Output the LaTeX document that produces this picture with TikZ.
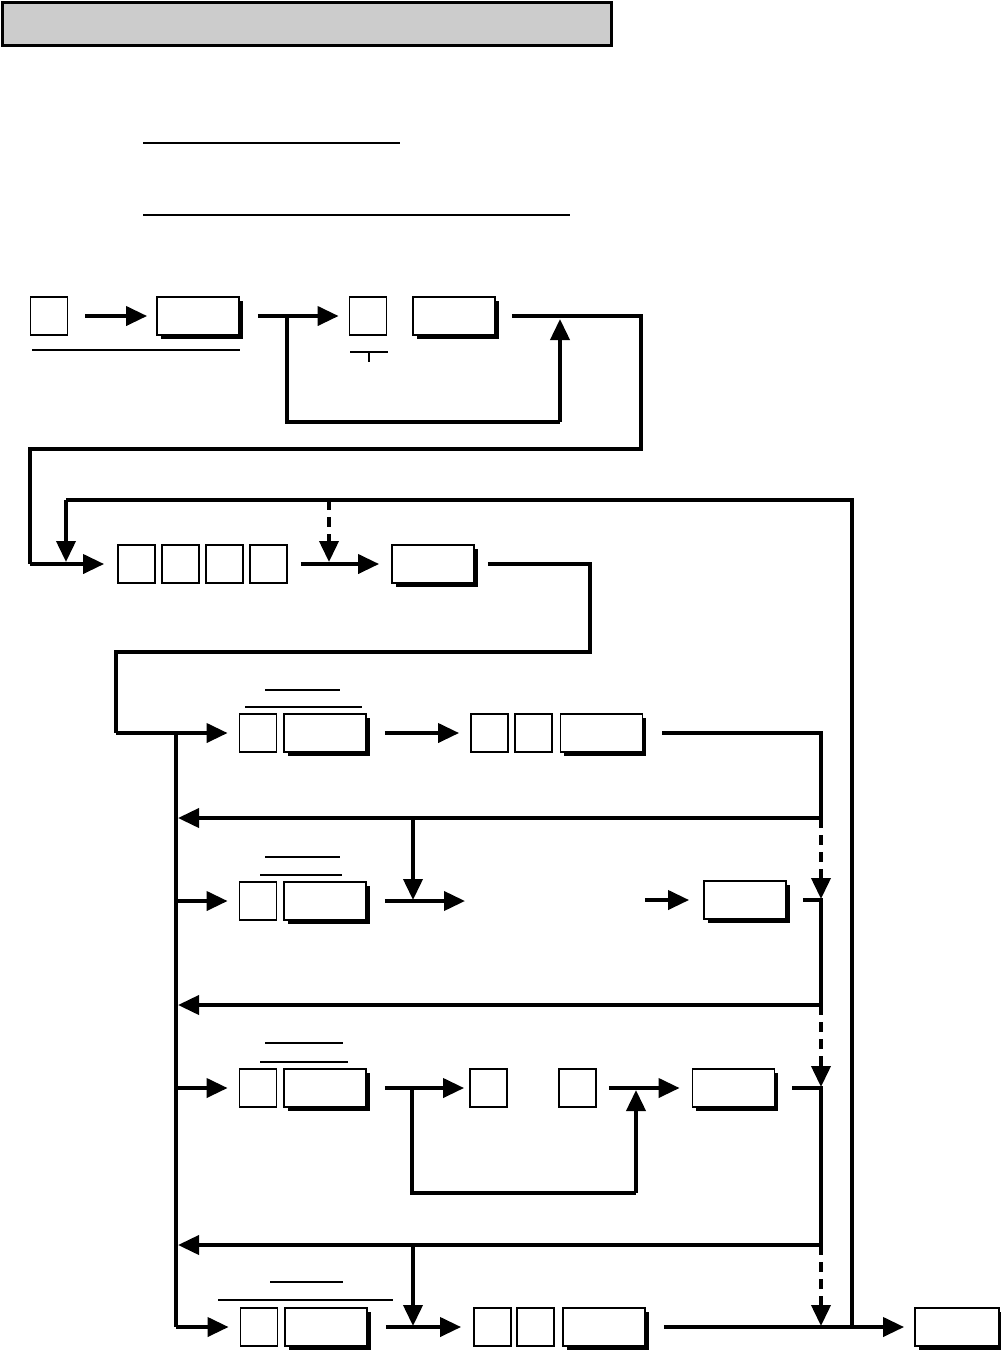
\documentclass[tikz,border=0pt]{standalone}
\usetikzlibrary{arrows.meta,shadows}
\begin{document}
\begin{tikzpicture}[x=1pt,y=-1pt,
  conn/.style={line width=3.8pt},
  arr/.style={conn,-{Triangle[length=21pt,width=19pt]}},
  dash arr/.style={arr,dash pattern=on 10pt off 7pt},
  thin/.style={line width=1.8pt},
  skey/.style={draw,line width=1.8pt,fill=white,minimum width=37pt,minimum height=38pt,inner sep=0pt},
  wkey/.style={draw,line width=1.8pt,fill=white,minimum width=82pt,minimum height=38pt,inner sep=0pt,
    general shadow={shadow xshift=3.5pt,shadow yshift=-3.5pt,fill=black}}]
\useasboundingbox (0,0) rectangle (1001,1350);
% title bar
\node[draw,line width=3pt,fill=black!20,minimum width=609pt,minimum height=43pt,inner sep=0pt] (title) at (306.5,23.5) {};
\draw[thin] (143,143) coordinate (l1a) -- (400,143) coordinate (l1b);
\draw[thin] (143,215) coordinate (l2a) -- (570,215) coordinate (l2b);
% row 1
\node[skey] (s1) at (49,316) {};
\node[wkey] (w1) at (198,316) {};
\node[skey] (s2) at (368,316) {};
\node[wkey] (w2) at (454,316) {};
\draw[thin] (32,350) coordinate (u1a) -- (240,350) coordinate (u1b);
\draw[thin] (350,352) coordinate (t1a) -- (388,352) coordinate (t1b);
\draw[thin] (369,352) coordinate (t1c) -- (369,362) coordinate (t1d);
% row 2
\node[skey] (r2a) at (136.5,564) {};
\node[skey] (r2b) at (180.5,564) {};
\node[skey] (r2c) at (224.5,564) {};
\node[skey] (r2d) at (268.5,564) {};
\node[wkey] (w3) at (433,564) {};
% row 3
\node[skey] (s3) at (258,733) {};
\node[wkey] (w4) at (325,733) {};
\node[skey] (s4) at (489.5,733) {};
\node[skey] (s5) at (533.5,733) {};
\node[wkey] (w5) at (601.5,733) {};
\draw[thin] (265,690) -- (340,690);
\draw[thin] (245,707) -- (362,707);
% row 4
\node[skey] (s6) at (258,901) {};
\node[wkey] (w6) at (325,901) {};
\node[wkey] (w7) at (745,900) {};
\draw[thin] (265,857) -- (340,857);
\draw[thin] (260,875) -- (342,875);
% row 5
\node[skey] (s7) at (258,1088) {};
\node[wkey] (w8) at (325,1088) {};
\node[skey] (s8) at (488.5,1088) {};
\node[skey] (s9) at (577.5,1088) {};
\node[wkey] (w9) at (733.5,1088) {};
\draw[thin] (265,1043) -- (343,1043);
\draw[thin] (260,1062) -- (348,1062);
% row 6
\node[skey] (s10) at (259,1327) {};
\node[wkey] (w10) at (326,1327) {};
\node[skey] (s11) at (492.5,1327) {};
\node[skey] (s12) at (535.5,1327) {};
\node[wkey] (w11) at (604,1327) {};
\node[wkey,minimum width=84pt] (w12) at (957,1327) {};
\draw[thin] (270,1282) -- (343,1282);
\draw[thin] (218,1300) -- (393,1300);

% coordinates
\coordinate (bus3) at (176,733);
\coordinate (bus4) at (176,901);
\coordinate (bus5) at (176,1088);
\coordinate (bus6) at (176,1327);
\coordinate (j6) at (852,1327);

% row 1 connectors
\draw[arr] ([xshift=17pt]s1.east) -- ([xshift=-9pt]w1.west);
\draw[arr] ([xshift=18pt]w1.east) coordinate (a1) -- ([xshift=-10pt]s2.west);
\draw[conn] (287,316) coordinate (b1) -- (287,422) -- (560,422);
\draw[arr] (560,422) -- (560,319);
\draw[conn] ([xshift=16pt]w2.east) -- (641,316) -- (641,449) -- (30,449) -- (30,564);
\draw[arr] (30,564) -- ([xshift=-13pt]r2a.west);
% big loop
\draw[conn] (j6) -- (852,500) -- (66,500);
\draw[arr] (66,500) -- (66,562);
% row 2
\draw[arr] ([xshift=13pt]r2d.east) -- ([xshift=-12pt]w3.west);
\draw[dash arr] (329,500) -- (329,562);
\draw[conn] ([xshift=13pt]w3.east) -- (590,564) -- (590,652) -- (116,652) -- (116,733);
\draw[arr] (116,733) -- ([xshift=-11pt]s3.west);
% row 3
\draw[arr] ([xshift=18pt]w4.east) -- ([xshift=-11pt]s4.west);
\draw[conn] ([xshift=19pt]w5.east) -- (821,733) -- (821,818);
\draw[arr] (821,818) -- (178,818);
\draw[conn] (bus3) -- (bus6);
\draw[arr] (413,818) -- (413,900);
\draw[dash arr] (821,818) -- (821,899);
% row 4
\draw[arr] (bus4) -- ([xshift=-11pt]s6.west);
\draw[arr] ([xshift=18pt]w6.east) -- (465,901);
\draw[arr] (645,900) -- ([xshift=-14pt]w7.west);
\draw[conn] ([xshift=16pt]w7.east) -- (821,900) -- (821,1005);
\draw[arr] (821,1005) -- (178,1005);
\draw[dash arr] (821,1005) -- (821,1087);
% row 5
\draw[arr] (bus5) -- ([xshift=-11pt]s7.west);
\draw[arr] ([xshift=18pt]w8.east) -- ([xshift=-5pt]s8.west);
\draw[conn] (412,1088) -- (412,1193) -- (636,1193);
\draw[arr] (636,1193) -- (636,1090);
\draw[arr] ([xshift=12pt]s9.east) -- ([xshift=-12pt]w9.west);
\draw[conn] ([xshift=17pt]w9.east) -- (821,1088) -- (821,1245);
\draw[arr] (821,1245) -- (178,1245);
\draw[arr] (413,1245) -- (413,1326);
\draw[dash arr] (821,1245) -- (821,1326);
% row 6
\draw[arr] (bus6) -- ([xshift=-11pt]s10.west);
\draw[arr] ([xshift=18pt]w10.east) -- ([xshift=-12pt]s11.west);
\draw[arr] ([xshift=18pt]w11.east) -- ([xshift=-10pt]w12.west);
\end{tikzpicture}
\end{document}
